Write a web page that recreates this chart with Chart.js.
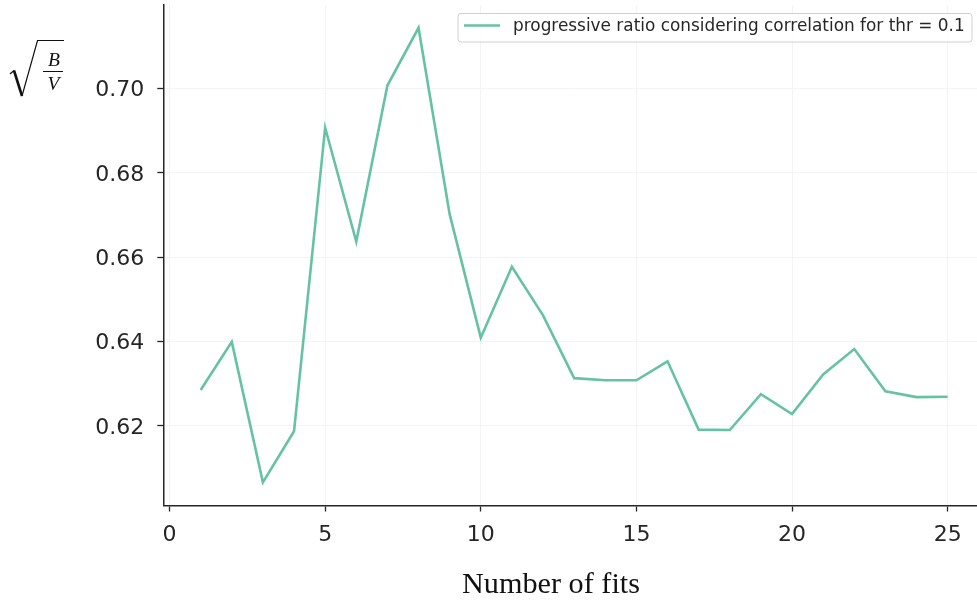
<!DOCTYPE html>
<html>
<head>
<meta charset="utf-8">
<script src="https://cdn.jsdelivr.net/npm/chart.js@4/dist/chart.umd.min.js"></script>
<style>
  html, body { margin: 0; padding: 0; background: #ffffff; overflow: hidden; }
  #wrap { width: 990px; height: 603px; }
</style>
</head>
<body>
<div id="wrap"><canvas id="chart" width="990" height="603"></canvas></div>
<script>
// Number of fits on the x axis
const fits = [1, 2, 3, 4, 5, 6, 7, 8, 9, 10, 11, 12, 13, 14, 15, 16, 17, 18, 19, 20, 21, 22, 23, 24, 25];
// progressive ratio sqrt(B/V), correlation threshold 0.1
const ratio = [0.6285, 0.6399, 0.6066, 0.6187, 0.6907, 0.6637, 0.7007, 0.7144, 0.6702, 0.6409,
               0.6577, 0.6462, 0.6313, 0.6308, 0.6308, 0.6353, 0.6191, 0.6190, 0.6275, 0.6228,
               0.6322, 0.6382, 0.6282, 0.6268, 0.6269];
const seriesLabel = 'progressive ratio considering correlation for thr = 0.1';
const xTicks = [0, 5, 10, 15, 20, 25];
const yTicks = [0.62, 0.64, 0.66, 0.68, 0.70];
const xTitle = 'Number of fits';

const lineColor = '#66c2a5';
const inkColor = '#262626';

// Legend box in the upper right of the plot area
const legendBox = {
  id: 'legendBox',
  afterDatasetsDraw(chart) {
    const ctx = chart.ctx;
    const ds = chart.data.datasets[0];
    ctx.save();
    const x0 = 458, y0 = 13.5, w = 514, h = 28.5, r = 3;
    ctx.beginPath();
    ctx.roundRect(x0, y0, w, h, r);
    ctx.fillStyle = 'rgba(255,255,255,0.8)';
    ctx.fill();
    ctx.strokeStyle = '#d0d0d0';
    ctx.lineWidth = 1;
    ctx.stroke();
    ctx.beginPath();
    ctx.moveTo(464, 25.5);
    ctx.lineTo(500, 25.5);
    ctx.strokeStyle = ds.borderColor;
    ctx.lineWidth = ds.borderWidth;
    ctx.stroke();
    ctx.fillStyle = inkColor;
    ctx.font = '16.9px "DejaVu Sans"';
    ctx.textBaseline = 'middle';
    ctx.textAlign = 'left';
    ctx.fillText(ds.label, 513, 27);
    ctx.restore();
  }
};

// Axis titles: sqrt(B/V) on the left, "Number of fits" below
const axisTitles = {
  id: 'axisTitles',
  afterDraw(chart) {
    const ctx = chart.ctx;
    ctx.save();
    ctx.strokeStyle = '#111111';
    ctx.fillStyle = '#111111';
    ctx.lineJoin = 'miter';
    // radical sign
    ctx.beginPath();
    ctx.moveTo(10, 74);
    ctx.lineTo(14, 70.5);
    ctx.lineWidth = 1.3;
    ctx.stroke();
    ctx.beginPath();
    ctx.moveTo(14, 70.5);
    ctx.lineTo(22, 96);
    ctx.lineWidth = 2.6;
    ctx.stroke();
    ctx.beginPath();
    ctx.moveTo(22, 96);
    ctx.lineTo(37.5, 40.5);
    ctx.lineTo(64, 40.5);
    ctx.lineWidth = 1.2;
    ctx.stroke();
    // fraction B / V
    ctx.beginPath();
    ctx.moveTo(43, 71.5);
    ctx.lineTo(63, 71.5);
    ctx.lineWidth = 1;
    ctx.stroke();
    ctx.font = 'italic 19.5px "Liberation Serif"';
    ctx.textAlign = 'center';
    ctx.textBaseline = 'alphabetic';
    ctx.fillText('B', 54, 66);
    ctx.fillText('V', 53.5, 90);
    // x axis title, sized to a fixed width
    let fs = 31;
    ctx.font = fs + 'px "Liberation Serif"';
    const m = ctx.measureText(xTitle).width;
    fs = fs * 178 / m;
    ctx.font = fs + 'px "Liberation Serif"';
    ctx.textAlign = 'center';
    ctx.fillText(xTitle, 551, 593);
    ctx.restore();
  }
};

new Chart(document.getElementById('chart'), {
  type: 'line',
  data: {
    datasets: [{
      label: seriesLabel,
      data: fits.map((f, i) => ({ x: f, y: ratio[i] })),
      borderColor: lineColor,
      backgroundColor: lineColor,
      borderWidth: 2.6,
      pointRadius: 0,
      tension: 0,
      fill: false
    }]
  },
  options: {
    responsive: false,
    animation: false,
    layout: { padding: { top: 5, right: 5, bottom: 0, left: 0 } },
    plugins: { legend: { display: false }, tooltip: { enabled: false } },
    scales: {
      x: {
        type: 'linear',
        min: -0.2,
        max: 26.2,
        afterBuildTicks: s => { s.ticks = xTicks.map(v => ({ value: v })); },
        afterFit: s => { s.height = 97.5; s.paddingLeft = 0; s.paddingRight = 0; },
        ticks: {
          autoSkip: false,
          maxRotation: 0,
          padding: 11,
          color: inkColor,
          font: { family: 'DejaVu Sans', size: 22 },
          callback: v => String(v)
        },
        grid: { color: '#f4f4f4', lineWidth: 1, tickColor: inkColor, tickLength: 6, tickWidth: 1.3 },
        border: { color: inkColor, width: 1.5 }
      },
      y: {
        type: 'linear',
        min: 0.6011,
        max: 0.7198,
        afterBuildTicks: s => { s.ticks = yTicks.map(v => ({ value: v })); },
        afterFit: s => { s.width = 163.3; s.paddingTop = 0; s.paddingBottom = 0; },
        ticks: {
          autoSkip: false,
          padding: 13,
          labelOffset: 2,
          color: inkColor,
          font: { family: 'DejaVu Sans', size: 22 },
          callback: v => v.toFixed(2)
        },
        grid: { color: '#f4f4f4', lineWidth: 1, tickColor: inkColor, tickLength: 6, tickWidth: 1.3 },
        border: { color: inkColor, width: 1.5 }
      }
    }
  },
  plugins: [legendBox, axisTitles]
});
</script>
</body>
</html>
